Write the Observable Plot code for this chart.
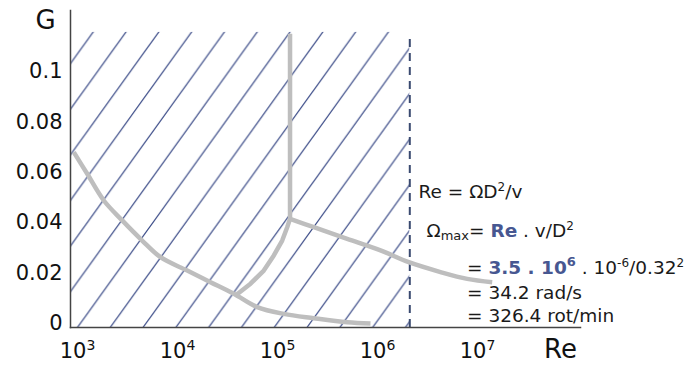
<!DOCTYPE html>
<html><head><meta charset="utf-8">
<script src="https://cdn.jsdelivr.net/npm/d3@7"></script>
<script src="https://cdn.jsdelivr.net/npm/@observablehq/plot@0.6"></script>
<style>html,body{margin:0;padding:0;background:#fff;}</style>
</head><body><div id="chart"></div>
<script>
// ---- data ----
const xTicks = [1e3, 1e4, 1e5, 1e6, 1e7];
const xTickExp = ["3", "4", "5", "6", "7"];
const yTicks = [0, 0.02, 0.04, 0.06, 0.08, 0.1];
const yTickLabels = ["0", "0.02", "0.04", "0.06", "0.08", "0.1"];

const laminarRe = [1018, 1387, 2032, 3105, 4920, 7500, 13870, 23700, 40550, 69500, 128200, 255900, 552000, 944000];
const laminarG  = [0.068, 0.0594, 0.0488, 0.0409, 0.0329, 0.0263, 0.0210, 0.0164, 0.0118, 0.0065, 0.0038, 0.0021, 0.0005, 0.0];

const transRe = [42170, 59600, 80900, 101900, 123600, 138700, 148000, 148000];
const transG  = [0.0111, 0.0158, 0.0210, 0.0270, 0.0329, 0.0382, 0.0415, 0.115];

const turbRe = [148000, 255900, 552000, 1.189e6, 2.28e6, 4.73e6, 8.75e6, 1.556e7];
const turbG  = [0.0415, 0.0382, 0.0336, 0.0290, 0.0243, 0.0204, 0.0177, 0.0164];

const limitRe = 2.333e6;     // dashed limit (hatched zone ends here)
const hatchTopG = 0.1155;

const annoText = ["Re = ΩD²/v", "Ωmax= Re . v/D²", "= 3.5 . 10⁶ . 10⁻⁶/0.32²", "= 34.2 rad/s", "= 326.4 rot/min"];
const annoRe = [2.85e6, 3.43e6, 8.71e6, 8.71e6, 8.71e6];
const annoG  = [0.0496, 0.0343, 0.0198, 0.0099, 0.0005];
// rich-text pieces for each annotation line: [text, kind]
const annoRich = [
  [["Re = ΩD"], ["2", "sup"], ["/v"]],
  [["Ω"], ["max", "sub"], ["= "], ["Re", "b"], [" . v/D"], ["2", "sup"]],
  [["= "], ["3.5 . 10", "b"], ["6", "bsup"], [" . 10"], ["-6", "sup"], ["/0.32"], ["2", "sup"]],
  [["= 34.2 rad/s"]],
  [["= 326.4 rot/min"]]
];

const axisTitles = [{t: "G", x: 531, y: 0.1169}, {t: "Re", x: 7.5e7, y: -0.0139}];

// ---- build ----
const xDomain = [10 ** 2.975, 10 ** 8.075];
const yDomain = [-0.0016, 0.1242];
const toRows = (xs, ys) => xs.map((x, i) => ({x, y: ys[i]}));

const grey = "#bebebe";
const plot = Plot.plot({
  width: 686, height: 365,
  marginLeft: 70, marginRight: 106, marginTop: 10, marginBottom: 38,
  style: {fontFamily: "DejaVu Sans", fontSize: "20px", color: "#111", background: "#fff"},
  x: {type: "log", domain: xDomain},
  y: {domain: yDomain},
  marks: [
    Plot.rect([{x1: xDomain[0], x2: limitRe, y1: yDomain[0], y2: hatchTopG}],
      {x1: "x1", x2: "x2", y1: "y1", y2: "y2", fill: "url(#hatch)"}),
    Plot.ruleX([limitRe], {y1: yDomain[0], y2: 0.115, stroke: "#3a4a70", strokeWidth: 2, strokeDasharray: "8,6"}),
    Plot.line(toRows(laminarRe, laminarG), {x: "x", y: "y", stroke: grey, strokeWidth: 4.5, curve: "catmull-rom", strokeLinecap: "butt"}),
    Plot.line(toRows(transRe, transG), {x: "x", y: "y", stroke: grey, strokeWidth: 4.5, curve: "linear", strokeLinecap: "butt"}),
    Plot.line(toRows(turbRe, turbG), {x: "x", y: "y", stroke: grey, strokeWidth: 4.5, curve: "catmull-rom", strokeLinecap: "butt"}),
    Plot.frame({anchor: "left", stroke: "#444", strokeWidth: 1.5}),
    Plot.frame({anchor: "bottom", stroke: "#444", strokeWidth: 1.5}),
    Plot.axisY({ticks: yTicks, tickSize: 0, tickPadding: 8, fontSize: 21,
      tickFormat: d => yTickLabels[yTicks.indexOf(d)], label: null}),
    Plot.axisX({ticks: xTicks, tickSize: 0, tickPadding: 16, fontSize: 21, textAnchor: "start", dx: -13.3,
      tickFormat: d => "10" + xTickExp[xTicks.indexOf(d)], label: null}),
    Plot.text(axisTitles, {x: "x", y: "y", text: "t", fontSize: 26, lineAnchor: "bottom", textAnchor: "middle", fill: "#111"}),
    Plot.text(annoText.map((t, i) => ({t, x: annoRe[i], y: annoG[i]})),
      {x: "x", y: "y", text: "t", fontSize: 18.5, textAnchor: "start", lineAnchor: "bottom", fill: "#1a1a1a"})
  ]
});

// hatch pattern (style of the hatched zone)
const svg = d3.select(plot);
const W = 32.8, H = 45.6;
const pat = svg.insert("defs", ":first-child").append("pattern")
  .attr("id", "hatch").attr("patternUnits", "userSpaceOnUse")
  .attr("width", W).attr("height", H).attr("x", 17.8).attr("y", 0);
pat.append("path")
  .attr("d", `M${-W},${H}L${W},${-H}M0,${H}L${W},0M0,${2 * H}L${2 * W},0`)
  .attr("stroke", "#3c4c88").attr("stroke-width", 1.25).attr("fill", "none");

// superscript exponents on the x tick labels
const xLabelStrings = xTickExp.map(e => "10" + e);
svg.selectAll("text").each(function () {
  const i = xLabelStrings.indexOf(this.textContent);
  if (i < 0) return;
  const el = d3.select(this);
  el.text(null);
  el.append("tspan").text("10");
  el.append("tspan").text(xTickExp[i]).attr("font-size", 14).attr("baseline-shift", 8);
});

// rich text for the annotations
const blue = "#475791";
svg.selectAll("text").each(function () {
  const i = annoText.indexOf(this.textContent);
  if (i < 0) return;
  const el = d3.select(this);
  el.text(null);
  for (const [txt, kind] of annoRich[i]) {
    const ts = el.append("tspan").text(txt);
    if (kind === "b") ts.attr("font-weight", "bold").attr("fill", blue);
    if (kind === "bsup") ts.attr("font-weight", "bold").attr("fill", blue).attr("font-size", 13).attr("baseline-shift", 8);
    if (kind === "sup") ts.attr("font-size", 12).attr("baseline-shift", 7);
    if (kind === "sub") ts.attr("font-size", 13).attr("baseline-shift", -3);
  }
});

document.getElementById("chart").appendChild(plot);
</script>
</body></html>
